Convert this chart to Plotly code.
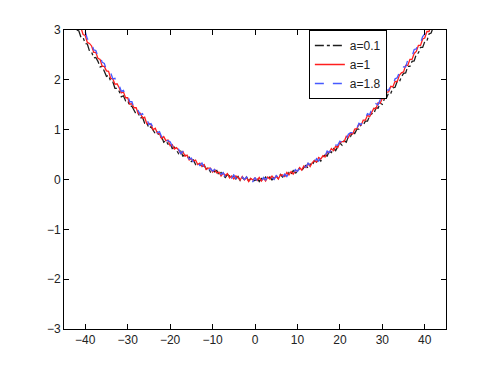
import plotly.graph_objects as go

# x sample grid, -42 .. 42 in steps of 0.5
x_vals = [i / 2 for i in range(-84, 85)]

# a=0.1 (black dash-dot)
y_a01 = [3.00, 2.98, 2.85, 2.85, 2.73, 2.72, 2.58, 2.56, 2.44, 2.45,
         2.37, 2.26, 2.27, 2.16, 2.07, 2.09, 1.97, 1.96, 1.83, 1.83,
         1.77, 1.66, 1.68, 1.58, 1.59, 1.47, 1.47, 1.39, 1.31, 1.33,
         1.23, 1.25, 1.13, 1.14, 1.03, 1.06, 1.00, 0.92, 0.95, 0.85,
         0.86, 0.75, 0.78, 0.71, 0.73, 0.62, 0.65, 0.57, 0.52, 0.57,
         0.47, 0.49, 0.43, 0.45, 0.36, 0.39, 0.30, 0.33, 0.30, 0.24,
         0.29, 0.21, 0.24, 0.15, 0.19, 0.15, 0.18, 0.09, 0.14, 0.08,
         0.04, 0.10, 0.07, 0.02, 0.08, 0.01, 0.06, -0.02, 0.04, 0.00,
         0.05, -0.03, 0.02, -0.03,
         -0.02, 0.03, -0.04, 0.02, -0.02, 0.05, 0.01, 0.05, -0.01, 0.05,
         0.07, 0.02, 0.10, 0.05, 0.09, 0.06, 0.14, 0.10, 0.18, 0.13,
         0.15, 0.23, 0.18, 0.24, 0.28, 0.23, 0.31, 0.28, 0.38, 0.35,
         0.42, 0.37, 0.46, 0.49, 0.47, 0.57, 0.54, 0.62, 0.58, 0.66,
         0.73, 0.69, 0.78, 0.75, 0.86, 0.86, 0.95, 0.92, 1.01, 1.01,
         1.11, 1.09, 1.17, 1.17, 1.28, 1.32, 1.32, 1.44, 1.43, 1.53,
         1.51, 1.62, 1.64, 1.74, 1.73, 1.84, 1.85, 1.97, 1.95, 2.06,
         2.13, 2.14, 2.27, 2.27, 2.37, 2.38, 2.51, 2.54, 2.65, 2.65,
         2.77, 2.78, 2.92, 2.94, 3.06]

# a=1 (red solid)
y_a1 = [3.17, 3.05, 3.04, 2.91, 2.89, 2.75, 2.73, 2.68, 2.55, 2.55,
        2.43, 2.41, 2.27, 2.27, 2.18, 2.17, 2.03, 2.02, 1.91, 1.92,
        1.84, 1.74, 1.76, 1.64, 1.64, 1.51, 1.52, 1.44, 1.44, 1.32,
        1.33, 1.23, 1.25, 1.12, 1.13, 1.10, 1.00, 1.03, 0.93, 0.92,
        0.82, 0.86, 0.78, 0.79, 0.68, 0.70, 0.61, 0.64, 0.59, 0.52,
        0.56, 0.47, 0.49, 0.39, 0.42, 0.37, 0.39, 0.30, 0.33, 0.26,
        0.30, 0.20, 0.23, 0.23, 0.15, 0.20, 0.13, 0.15, 0.07, 0.13,
        0.08, 0.12, 0.03, 0.07, 0.01, 0.07, 0.04, -0.01, 0.06, -0.01,
        0.04, -0.04, 0.02, -0.01,
        0.03, -0.02, 0.04, -0.03, 0.03, -0.03, 0.05, 0.01, 0.07, 0.01,
        0.07, 0.01, 0.09, 0.09, 0.06, 0.14, 0.09, 0.16, 0.11, 0.18,
        0.17, 0.24, 0.19, 0.27, 0.24, 0.32, 0.26, 0.34, 0.38, 0.35,
        0.44, 0.41, 0.48, 0.45, 0.55, 0.54, 0.62, 0.58, 0.67, 0.64,
        0.74, 0.76, 0.76, 0.87, 0.84, 0.93, 0.91, 1.01, 1.02, 1.11,
        1.09, 1.19, 1.19, 1.29, 1.26, 1.36, 1.43, 1.42, 1.54, 1.53,
        1.63, 1.62, 1.75, 1.76, 1.87, 1.86, 1.97, 1.96, 2.09, 2.14,
        2.16, 2.29, 2.29, 2.41, 2.41, 2.53, 2.57, 2.69, 2.69, 2.82,
        2.84, 2.97, 2.97, 3.10, 3.16]

# a=1.8 (blue dashed)
y_a18 = [3.26, 3.11, 3.09, 2.98, 2.97, 2.82, 2.79, 2.74, 2.60, 2.59,
         2.47, 2.48, 2.35, 2.33, 2.20, 2.19, 2.14, 2.02, 2.03, 1.91,
         1.89, 1.77, 1.79, 1.69, 1.69, 1.56, 1.56, 1.44, 1.46, 1.39,
         1.30, 1.32, 1.22, 1.22, 1.10, 1.12, 1.04, 1.05, 0.94, 0.96,
         0.86, 0.89, 0.77, 0.78, 0.76, 0.67, 0.70, 0.61, 0.61, 0.52,
         0.56, 0.49, 0.51, 0.41, 0.43, 0.34, 0.39, 0.34, 0.28, 0.33,
         0.24, 0.27, 0.18, 0.22, 0.17, 0.20, 0.12, 0.16, 0.10, 0.14,
         0.05, 0.09, 0.10, 0.03, 0.09, 0.02, 0.05, -0.02, 0.05, 0.00,
         0.05, -0.03, 0.02, -0.04,
         0.04, -0.03, 0.02, -0.04, 0.04, -0.01, 0.06, -0.01, 0.04, 0.00,
         0.08, 0.04, 0.11, 0.05, 0.11, 0.06, 0.15, 0.14, 0.12, 0.20,
         0.16, 0.23, 0.18, 0.26, 0.25, 0.33, 0.28, 0.36, 0.34, 0.42,
         0.37, 0.45, 0.50, 0.47, 0.57, 0.54, 0.61, 0.59, 0.69, 0.69,
         0.77, 0.74, 0.83, 0.81, 0.91, 0.94, 0.94, 1.05, 1.03, 1.13,
         1.10, 1.21, 1.23, 1.32, 1.30, 1.41, 1.41, 1.52, 1.50, 1.60,
         1.68, 1.67, 1.80, 1.79, 1.89, 1.89, 2.02, 2.04, 2.15, 2.15,
         2.26, 2.26, 2.40, 2.45, 2.47, 2.61, 2.62, 2.74, 2.74, 2.87,
         2.92, 3.04, 3.04, 3.18, 3.21]

fig = go.Figure()
fig.add_trace(go.Scatter(x=x_vals, y=y_a01, mode='lines', name='a=0.1',
                         line=dict(color='rgb(30,30,30)', width=1.3, dash='dashdot')))
fig.add_trace(go.Scatter(x=x_vals, y=y_a1, mode='lines', name='a=1',
                         line=dict(color='rgb(255,30,30)', width=1.3)))
fig.add_trace(go.Scatter(x=x_vals, y=y_a18, mode='lines', name='a=1.8',
                         line=dict(color='rgb(70,90,255)', width=1.3, dash='dash')))

axis_style = dict(showline=True, mirror='ticks', linecolor='black', linewidth=1,
                  ticks='inside', ticklen=5, tickcolor='black', showgrid=False,
                  zeroline=False, tickfont=dict(family='Liberation Sans, Arial', size=12, color='#222'))

# the page body adds 8px, so margins are shifted to compensate
fig.update_layout(
    width=493, height=371,
    margin=dict(l=56, r=55, t=22, b=50),
    paper_bgcolor='white', plot_bgcolor='white',
    xaxis=dict(range=[-45, 45], dtick=10, **axis_style),
    yaxis=dict(range=[-3, 3], dtick=1, **axis_style),
    legend=dict(x=0.641, y=1.0, xanchor='left', yanchor='top',
                bordercolor='black', borderwidth=1, bgcolor='white',
                font=dict(family='Liberation Sans, Arial', size=12, color='#222'),
                tracegroupgap=0),
    showlegend=True,
)

fig.write_html("out.html")
